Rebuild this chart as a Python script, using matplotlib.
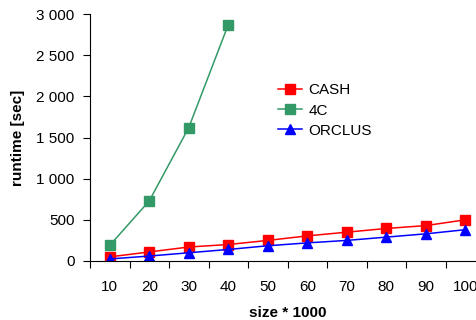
import matplotlib
matplotlib.use("Agg")
import matplotlib.pyplot as plt
from matplotlib.ticker import FuncFormatter

sizes = ["10", "20", "30", "40", "50", "60", "70", "80", "90", "100"]
cash = [50, 110, 170, 200, 250, 305, 350, 395, 430, 500]
fourc = [190, 730, 1620, 2870]
orclus = [25, 60, 100, 140, 185, 220, 250, 290, 330, 380]

plt.rcParams['font.family'] = ['Liberation Sans', 'DejaVu Sans']

fig = plt.figure(figsize=(4.77, 3.2), dpi=100)
ax = fig.add_axes([90/477, 1-261/320, 395/477, 247/320])

x = list(range(len(sizes)))
ax.plot(x, cash, color='#FF0000', marker='s', markersize=7, lw=1.1, label='CASH')
ax.plot(x[:len(fourc)], fourc, color='#339966', marker='s', markersize=7, lw=1.1, label='4C')
ax.plot(x, orclus, color='#0000FF', marker='^', markersize=7, lw=1.1, label='ORCLUS')

ax.set_xlim(-0.5, len(sizes) - 0.5)
ax.set_ylim(0, 3000)
ax.set_yticks(range(0, 3001, 500))
ax.yaxis.set_major_formatter(FuncFormatter(lambda v, p: f"{int(v):,}".replace(",", " ")))

ax.set_xticks([i - 0.5 for i in range(len(sizes) + 1)])
ax.set_xticklabels([])
ax.set_xticks(x, minor=True)
ax.set_xticklabels(sizes, minor=True)
ax.tick_params(axis='x', which='minor', length=0, pad=14, labelsize=11)
ax.tick_params(axis='x', which='major', length=5, direction='out')
ax.tick_params(axis='y', length=5, direction='out', labelsize=11, pad=6)

for s in ['top', 'right']:
    ax.spines[s].set_visible(False)

ax.set_ylabel('runtime [sec]', fontweight='bold', fontsize=11, labelpad=8)
ax.set_xlabel('size * 1000', fontweight='bold', fontsize=11, labelpad=8)

ax.legend(loc='upper left', bbox_to_anchor=(0.476, 0.719), frameon=False, fontsize=11,
          handlelength=1.6, handletextpad=0.4, labelspacing=0.4,
          borderaxespad=0, borderpad=0)

fig.savefig('out.png', dpi=100)
